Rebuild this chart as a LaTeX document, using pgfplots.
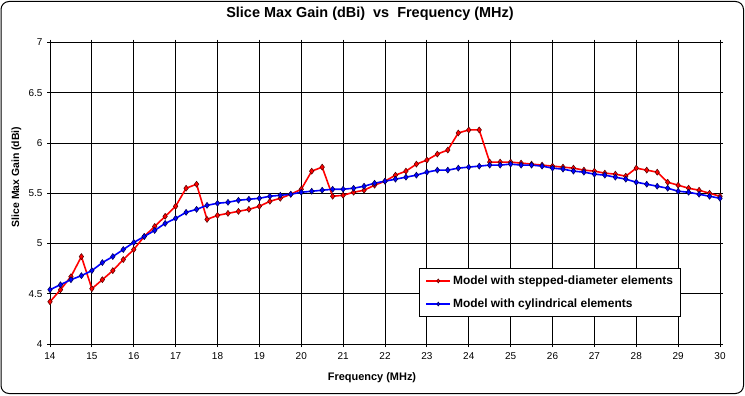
\documentclass[border=0pt]{standalone}
\usepackage{fontspec}
\setmainfont{Liberation Sans}
\usepackage{pgfplots}
\pgfplotsset{compat=1.18}
\usepackage{pgfplotstable}

\pgfplotstableread{
f g
14 4.42
14.25 4.54
14.5 4.67
14.75 4.87
15 4.55
15.25 4.64
15.5 4.73
15.75 4.84
16 4.94
16.25 5.07
16.5 5.17
16.75 5.27
17 5.37
17.25 5.55
17.5 5.59
17.75 5.24
18 5.28
18.25 5.30
18.5 5.32
18.75 5.34
19 5.37
19.25 5.42
19.5 5.45
19.75 5.49
20 5.54
20.25 5.72
20.5 5.76
20.75 5.47
21 5.48
21.25 5.51
21.5 5.53
21.75 5.58
22 5.62
22.25 5.68
22.5 5.72
22.75 5.79
23 5.83
23.25 5.89
23.5 5.93
23.75 6.10
24 6.13
24.25 6.13
24.5 5.81
24.75 5.81
25 5.81
25.25 5.80
25.5 5.79
25.75 5.78
26 5.77
26.25 5.76
26.5 5.75
26.75 5.73
27 5.72
27.25 5.70
27.5 5.69
27.75 5.67
28 5.75
28.25 5.73
28.5 5.71
28.75 5.61
29 5.58
29.25 5.55
29.5 5.53
29.75 5.50
30 5.47
}\stepped

\pgfplotstableread{
f g
14 4.54
14.25 4.59
14.5 4.64
14.75 4.68
15 4.73
15.25 4.81
15.5 4.87
15.75 4.94
16 5.01
16.25 5.07
16.5 5.13
16.75 5.20
17 5.25
17.25 5.31
17.5 5.34
17.75 5.38
18 5.40
18.25 5.41
18.5 5.43
18.75 5.44
19 5.45
19.25 5.47
19.5 5.48
19.75 5.49
20 5.51
20.25 5.52
20.5 5.53
20.75 5.54
21 5.54
21.25 5.55
21.5 5.57
21.75 5.60
22 5.62
22.25 5.64
22.5 5.66
22.75 5.68
23 5.71
23.25 5.73
23.5 5.73
23.75 5.75
24 5.76
24.25 5.77
24.5 5.78
24.75 5.78
25 5.79
25.25 5.78
25.5 5.78
25.75 5.77
26 5.75
26.25 5.74
26.5 5.72
26.75 5.71
27 5.69
27.25 5.68
27.5 5.66
27.75 5.64
28 5.61
28.25 5.59
28.5 5.57
28.75 5.55
29 5.52
29.25 5.51
29.5 5.49
29.75 5.47
30 5.45
}\cylindrical

\definecolor{xlred}{RGB}{255,0,0}
\definecolor{xlblue}{RGB}{0,0,255}

\begin{document}
\begin{tikzpicture}[x=1bp,y=1bp]
\useasboundingbox (0,0) rectangle (745,395);
\draw[black, line width=1bp, rounded corners=8bp] (1,1.5) rectangle (743.5,393.5);
\begin{axis}[
  at={(50bp,51bp)}, anchor=south west,
  scale only axis,
  width=670bp, height=301.5bp,
  xmin=14, xmax=30, ymin=4, ymax=7,
  xtick={14,15,...,30},
  ytick={4,4.5,5,5.5,6,6.5,7},
  yticklabels={4,4.5,5,5.5,6,6.5,7},
  grid=major,
  major grid style={black, line width=1bp},
  axis line style={black, line width=1bp},
  tick style={black, line width=1bp},
  tick align=outside,
  major tick length=3bp,
  tick label style={font=\fontsize{10}{12}\selectfont},
  /pgf/number format/assume math mode=true,
  xticklabel style={yshift=-2bp},
  yticklabel style={xshift=-1bp},
  xlabel={Frequency (MHz)},
  xlabel style={font=\bfseries\fontsize{11}{13}\selectfont, at={(axis description cs:0.4806,-0.1128)}, anchor=center},
  ylabel={Slice Max Gain (dBi)},
  ylabel style={font=\bfseries\fontsize{10.5}{12}\selectfont, at={(axis description cs:-0.0500,0.554)}, anchor=center},
  title={Slice Max Gain (dBi)\ \ vs\ \ Frequency (MHz)},
  title style={font=\bfseries\fontsize{14.5}{16}\selectfont, at={(axis description cs:0.4776,1.0746)}, anchor=center},
  legend style={at={(axis description cs:0.5507,0.251)}, anchor=north west,
    draw=black, line width=1bp, fill=white,
    font=\bfseries\fontsize{12}{14}\selectfont,
    inner xsep=6bp, inner ysep=5bp, row sep=9bp,
    cells={anchor=west}},
  legend image code/.code={
    \draw[#1, mark=none] (0bp,0bp) -- (24bp,0bp);
    \draw[#1, only marks, mark size=2bp] plot coordinates {(12bp,0bp)};
  },
  legend cell align=left,
]
\addplot[xlred, line width=1.6bp, mark=diamond*, mark size=3bp,
  mark options={fill=xlred, draw=black!70!xlred, line width=0.5bp, solid}]
  table[x=f, y=g] {\stepped};
\addlegendentry{Model with stepped-diameter elements}
\addplot[xlblue, line width=1.6bp, mark=diamond*, mark size=3bp,
  mark options={fill=xlblue, draw=black!70!xlblue, line width=0.5bp, solid}]
  table[x=f, y=g] {\cylindrical};
\addlegendentry{Model with cylindrical elements}
\end{axis}
\end{tikzpicture}
\end{document}
